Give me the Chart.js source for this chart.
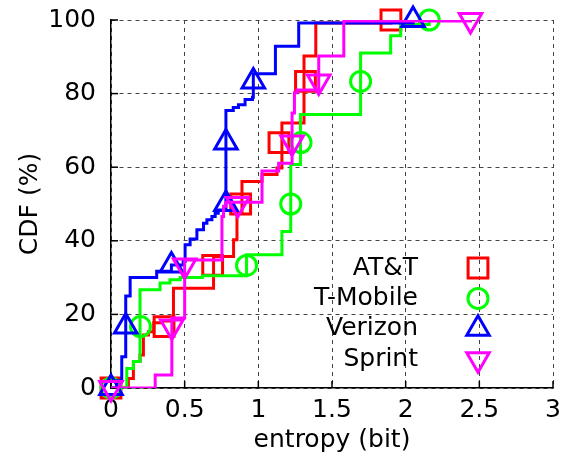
<!DOCTYPE html>
<html>
<head>
<meta charset="utf-8">
<script src="https://cdn.jsdelivr.net/npm/chart.js@4.4.1/dist/chart.umd.min.js"></script>
<style>
    html, body { margin: 0; padding: 0; background: #fff; }
</style>
</head>
<body>
<canvas id="grafico" width="565" height="465"></canvas>
<script>
const nomes = ['AT&T', 'T-Mobile', 'Verizon', 'Sprint'];
const cores = ['#ff0000', '#00ff00', '#0000ff', '#ff00ff'];
const xTicks = [0, 0.5, 1, 1.5, 2, 2.5, 3];
const yTicks = [0, 20, 40, 60, 80, 100];

// CDF steps: entropy (bit) -> CDF (%)
const attX = [0, 0.118, 0.152, 0.197, 0.22, 0.254, 0.29, 0.35, 0.424, 0.696, 0.832, 0.855, 0.889, 1.025, 1.127, 1.16, 1.31, 1.39, 1.9];
const attY = [0, 2.6, 7.2, 9, 14.4, 15.3, 17.7, 18.2, 27.1, 35.7, 40.3, 47.5, 56.1, 58, 59.8, 72, 90.2, 99.2, 100];

const tmoX = [0, 0.107, 0.152, 0.197, 0.333, 0.4, 0.47, 0.62, 0.92, 1.16, 1.22, 1.286, 1.694, 1.898, 1.966, 2.16];
const tmoY = [0, 5.3, 7.2, 26.7, 28.5, 29.4, 30, 30.5, 36.2, 42.5, 60.7, 74.3, 91, 95.7, 98.8, 100];

const vzwX = [0, 0.04, 0.073, 0.1, 0.13, 0.31, 0.41, 0.49, 0.503, 0.537, 0.583, 0.628, 0.651, 0.685, 0.707, 0.728, 0.78, 0.83, 0.865, 0.91, 0.96, 0.966, 1.116, 1.274, 2.05];
const vzwY = [0, 2, 8.5, 25, 30, 31.7, 33.4, 34.4, 38.9, 40.5, 43, 44.8, 45.7, 46.6, 47.5, 48.4, 75.4, 76.2, 77, 78.4, 79, 85.4, 92.9, 99.2, 100];

const sprX = [0, 0.3, 0.413, 0.5, 0.753, 0.764, 0.78, 1.025, 1.138, 1.229, 1.245, 1.263, 1.41, 1.58, 2.44];
const sprY = [0, 3.5, 19, 34.8, 46.6, 49.4, 50.5, 59, 61.1, 74.7, 80.2, 81, 90.2, 99.7, 100];

// marcadores (a cada 1/6 da curva)
const marcaY = [0, 16.7, 33.3, 50, 66.7, 83.3, 100];
const attMarcaX = [0, 0.36, 0.69, 0.88, 1.14, 1.32, 1.9];
const tmoMarcaX = [0, 0.2, 0.92, 1.22, 1.29, 1.694, 2.16];
const vzwMarcaX = [0, 0.1, 0.41, 0.78, 0.78, 0.966, 2.05];
const sprMarcaX = [0, 0.413, 0.5, 0.86, 1.229, 1.41, 2.44];

const fonte = { family: 'DejaVu Sans', size: 25 };

function pontos(xs, ys) {
    return xs.map((x, i) => ({ x: x, y: ys[i] }));
}

// os marcadores grandes nao devem empurrar a area do grafico
Chart.ScatterController.prototype.getMaxOverflow = function () { return 0; };

const curvas = [[attX, attY], [tmoX, tmoY], [vzwX, vzwY], [sprX, sprY]];
const marcas = [attMarcaX, tmoMarcaX, vzwMarcaX, sprMarcaX];
const estilos = [
    { pointStyle: 'rect', radius: 14, rotation: 0 },
    { pointStyle: 'circle', radius: 10, rotation: 0 },
    { pointStyle: 'triangle', radius: 13, rotation: 0 },
    { pointStyle: 'triangle', radius: 13, rotation: 180 }
];

const datasets = [];
curvas.forEach((c, i) => {
    datasets.push({
        label: nomes[i],
        data: pontos(c[0], c[1]),
        showLine: true,
        stepped: true,
        borderColor: cores[i],
        borderWidth: 3,
        pointRadius: 0,
        fill: false,
        order: 3 - i
    });
    datasets.push({
        label: nomes[i] + ' marcas',
        data: pontos(marcas[i], marcaY),
        showLine: false,
        pointStyle: estilos[i].pointStyle,
        pointRadius: estilos[i].radius,
        pointRotation: estilos[i].rotation,
        pointBorderWidth: 3,
        pointBorderColor: cores[i],
        pointBackgroundColor: 'rgba(0,0,0,0)',
        clip: false,
        order: 3 - i
    });
});

// tiques internos nos eixos
const tiques = {
    id: 'tiques',
    beforeDatasetsDraw(chart) {
        const c = chart.ctx;
        const sx = chart.scales.x, sy = chart.scales.y;
        c.save();
        c.strokeStyle = '#000';
        c.lineWidth = 1.5;
        xTicks.forEach(v => {
            const px = sx.getPixelForValue(v);
            c.beginPath();
            c.moveTo(px, sy.bottom);
            c.lineTo(px, sy.bottom - 7);
            c.stroke();
        });
        yTicks.forEach(v => {
            const py = sy.getPixelForValue(v);
            c.beginPath();
            c.moveTo(sx.left, py);
            c.lineTo(sx.left + 7, py);
            c.stroke();
        });
        c.restore();
    }
};

// legenda no estilo gnuplot (texto a direita, marcador depois)
const legenda = {
    id: 'legenda',
    afterDraw(chart) {
        const c = chart.ctx;
        c.save();
        c.font = '25px "DejaVu Sans"';
        c.textAlign = 'right';
        c.textBaseline = 'middle';
        nomes.forEach((n, i) => {
            const y = 268 + i * 30.4;
            c.fillStyle = '#000';
            c.fillText(n, 418, y);
            c.strokeStyle = cores[i];
            c.fillStyle = 'rgba(0,0,0,0)';
            c.lineWidth = 3;
            Chart.helpers.drawPoint(c, {
                pointStyle: estilos[i].pointStyle,
                rotation: estilos[i].rotation,
                radius: estilos[i].radius,
                borderWidth: 3
            }, 478, y);
        });
        c.restore();
    }
};

new Chart(document.getElementById('grafico').getContext('2d'), {
    type: 'scatter',
    data: { datasets: datasets },
    plugins: [tiques, legenda],
    options: {
        responsive: false,
        animation: false,
        devicePixelRatio: 1,
        layout: { padding: { top: 20, right: 12, left: 0, bottom: 0 } },
        plugins: {
            legend: { display: false },
            tooltip: { enabled: false }
        },
        scales: {
            x: {
                type: 'linear',
                min: 0,
                max: 3,
                afterBuildTicks: s => { s.ticks = xTicks.map(v => ({ value: v })); },
                afterFit: s => { s.height = 77; },
                ticks: { color: '#000', font: { family: 'DejaVu Sans', size: 25, lineHeight: 1.76 }, padding: 0, maxRotation: 0, callback: v => String(v) },
                grid: { color: '#444', lineWidth: 1, drawTicks: false },
                border: { display: true, color: '#000', width: 1.5, dash: [4, 4] },
                title: { display: true, text: 'entropy (bit)', color: '#000', font: fonte, padding: { top: 0, bottom: 10 } }
            },
            y: {
                type: 'linear',
                min: 0,
                max: 100,
                afterBuildTicks: s => { s.ticks = yTicks.map(v => ({ value: v })); },
                afterFit: s => { s.width = 111; s.paddingTop = 0; s.paddingBottom = 0; },
                ticks: { color: '#000', font: fonte, padding: 15, callback: v => String(v) },
                grid: { color: '#444', lineWidth: 1, drawTicks: false },
                border: { display: true, color: '#000', width: 1.5, dash: [4, 4] },
                title: { display: true, text: 'CDF (%)', color: '#000', font: fonte, padding: { top: 15, bottom: 0 } }
            }
        }
    }
});
</script>
</body>
</html>
